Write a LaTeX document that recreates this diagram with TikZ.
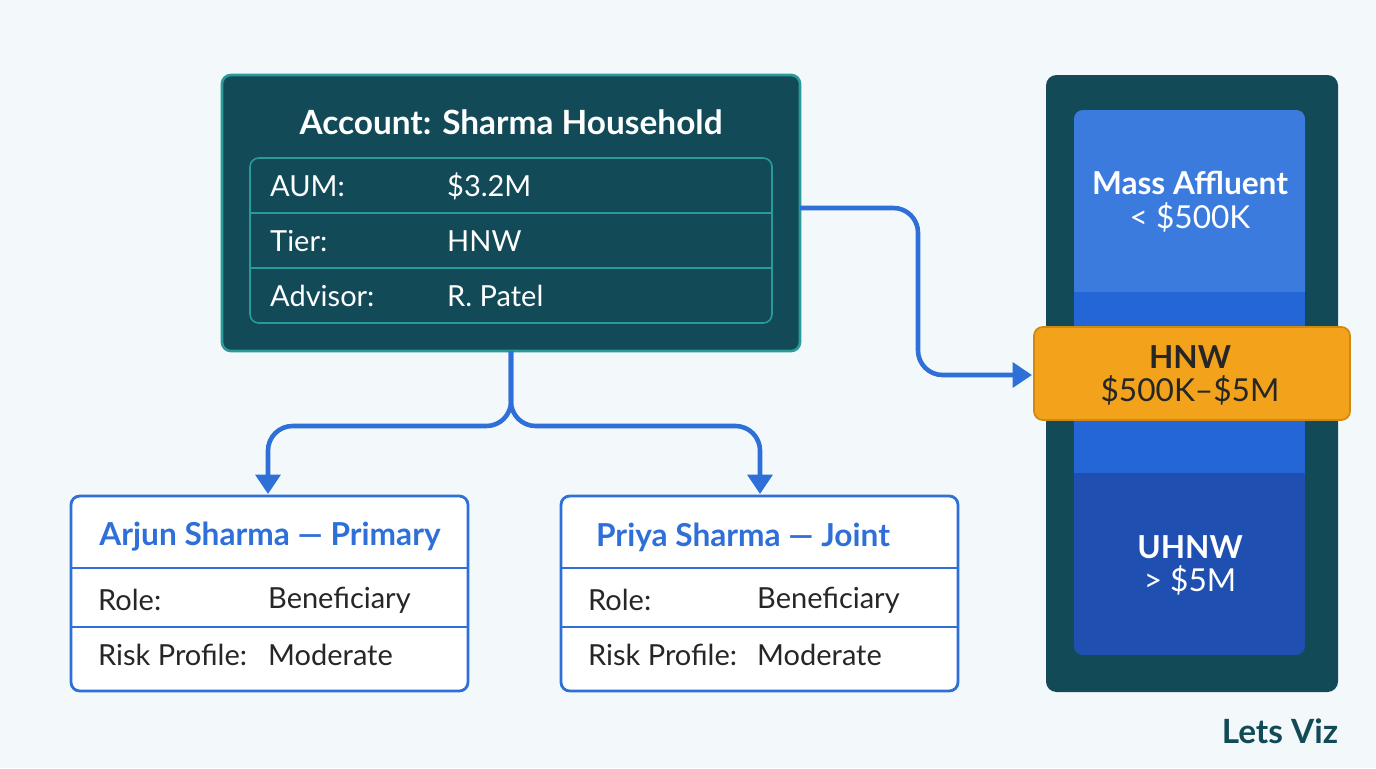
\documentclass[tikz,border=0pt]{standalone}
\usepackage{fontspec}
\setmainfont{Lato}
\usepackage{tikz}
\usetikzlibrary{positioning, arrows.meta}
\definecolor{bgc}{HTML}{F3F8FA}
\definecolor{teal}{HTML}{124A58}
\definecolor{tealline}{HTML}{2A9A9A}
\definecolor{blu}{HTML}{2F6FD8}
\definecolor{band1}{HTML}{3A7BDD}
\definecolor{band2}{HTML}{2466D6}
\definecolor{band3}{HTML}{1F4FB0}
\definecolor{gold}{HTML}{F2A31B}
\definecolor{golddark}{HTML}{D08A12}

\begin{document}
\begin{tikzpicture}[x=0.02cm,y=-0.02cm]
    \tikzset{lbl/.style = {anchor=west, font=\fontsize{16.5}{19}\selectfont}}
    \tikzset{wlbl/.style = {lbl, text=white}}
    \tikzset{blbl/.style = {lbl, text=black!85}}
    \tikzset{big/.style = {font=\fontsize{18}{20}\selectfont}}
    \tikzset{bigb/.style = {font=\bfseries\fontsize{18}{20}\selectfont}}
    \tikzset{link/.style = {blu, line width=2.6pt, rounded corners=14pt, -{Triangle[length=11pt,width=14pt]}}}
    \tikzset{person/.style = {draw=blu, line width=1.6pt, fill=white, rounded corners=5pt}}

    \fill[bgc] (0,0) rectangle (1376,768);

    % account box
    \draw[fill=teal, draw=tealline, line width=1.5pt, rounded corners=5pt] (222,75) rectangle (800,351);
    \node[text=white, font=\bfseries\fontsize{19}{22}\selectfont] (acct) at (511,122) {Account: Sharma Household};
    \draw[tealline, line width=0.9pt, rounded corners=5pt] (250,158) rectangle (772,323);
    \draw[tealline, line width=0.9pt] (250,213) -- (772,213);
    \draw[tealline, line width=0.9pt] (250,268) -- (772,268);
    \node[wlbl] (aum) at (264,186) {AUM:};
    \node[wlbl] (aumv) at (441,186) {\$3.2M};
    \node[wlbl] (tier) at (264,241) {Tier:};
    \node[wlbl] (tierv) at (441,241) {HNW};
    \node[wlbl] (adv) at (264,296) {Advisor:};
    \node[wlbl] (advv) at (441,296) {R. Patel};
    \coordinate (acctB) at (511,351);
    \coordinate (acctR) at (800,208);

    % people
    \draw[person] (71,496) rectangle (468,691);
    \draw[blu, line width=1.2pt] (71,568) -- (468,568);
    \draw[blu, line width=1.2pt] (71,627) -- (468,627);
    \node[text=blu, bigb] (arjun) at (270,537) {Arjun Sharma — Primary};
    \node[blbl] (r1) at (92,600) {Role:};
    \node[blbl] (r1v) at (262,600) {Beneficiary};
    \node[blbl] (p1) at (92,655) {Risk Profile:};
    \node[blbl] (p1v) at (262,655) {Moderate};
    \coordinate (arjunT) at (268,494);

    \draw[person] (561,496) rectangle (958,691);
    \draw[blu, line width=1.2pt] (561,568) -- (958,568);
    \draw[blu, line width=1.2pt] (561,627) -- (958,627);
    \node[text=blu, bigb] (priya) at (743,537) {Priya Sharma — Joint};
    \node[blbl] (r2) at (582,600) {Role:};
    \node[blbl] (r2v) at (751,600) {Beneficiary};
    \node[blbl] (p2) at (582,655) {Risk Profile:};
    \node[blbl] (p2v) at (751,655) {Moderate};
    \coordinate (priyaT) at (760,494);

    % tier panel
    \fill[teal, rounded corners=6pt] (1046,75) rectangle (1338,692);
    \fill[band1, rounded corners=5pt] (1074,110) rectangle (1305,300);
    \fill[band3, rounded corners=5pt] (1074,465) rectangle (1305,655);
    \fill[band2] (1074,292) rectangle (1305,473);
    \node[text=white, bigb] (mass) at (1190,183) {Mass Affluent};
    \node[text=white, big] (massv) at (1190,217) {< \$500K};
    \node[text=white, bigb] (uhnw) at (1190,547) {UHNW};
    \node[text=white, big] (uhnwv) at (1190,580) {> \$5M};
    \draw[fill=gold, draw=golddark, line width=1pt, rounded corners=5pt] (1034,327) rectangle (1350,420);
    \node[text=black!85, bigb] (hnw) at (1190,357) {HNW};
    \node[text=black!85, big] (hnwv) at (1190,390) {\$500K–\$5M};
    \coordinate (hnwL) at (1032,375);

    % connectors
    \draw[link] (acctB) -- (511,426) -- (268,426) -- (arjunT);
    \draw[link] (acctB) -- (511,426) -- (760,426) -- (priyaT);
    \draw[link] (acctR) -- (918,208) -- (918,375) -- (hnwL);

    \node[text=teal, font=\bfseries\fontsize{19}{22}\selectfont] (brand) at (1280,731) {Lets Viz};
\end{tikzpicture}
\end{document}
